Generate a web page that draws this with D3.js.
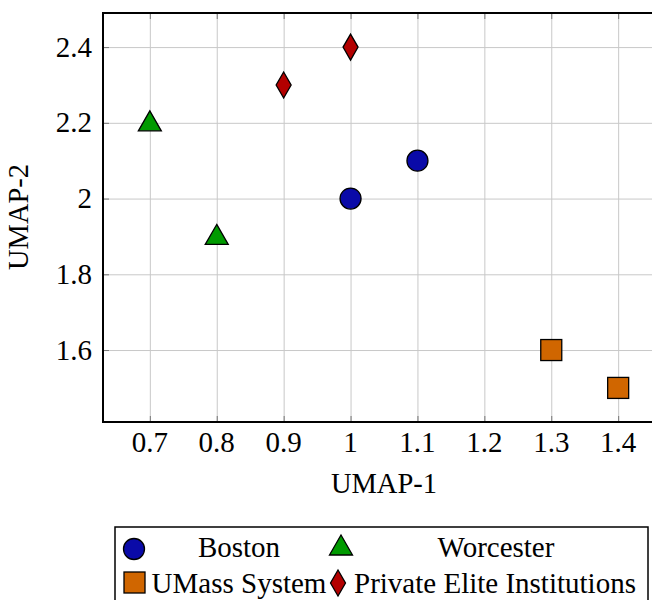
<html>
<head>
<script src="https://d3js.org/d3.v7.min.js"></script>
<style>
  body { margin: 0; background: #fff; }
  text { font-family: "Liberation Serif", "DejaVu Serif", serif; fill: #000; }
  .grid line { stroke: #c8c8c8; stroke-width: 1; }
  .grid .domain { stroke: none; }
  .ticks line { stroke: #777; stroke-width: 1; }
  .ticks .domain { stroke: none; }
</style>
</head>
<body>
<svg id="chart" width="652" height="600"></svg>
<script>
// data
const groups = ["Boston", "Worcester", "UMass System", "Private Elite Institutions"];
const bostonX = [1.0, 1.1], bostonY = [2.0, 2.1];
const worcesterX = [0.7, 0.8], worcesterY = [2.2, 1.9];
const umassX = [1.3, 1.4], umassY = [1.6, 1.5];
const privateX = [0.9, 1.0], privateY = [2.3, 2.4];
const xTicks = [0.7, 0.8, 0.9, 1.0, 1.1, 1.2, 1.3, 1.4];
const yTicks = [1.6, 1.8, 2.0, 2.2, 2.4];

const series = [
  { name: groups[0], xs: bostonX, ys: bostonY, shape: "circle", color: "#0a0aa8" },
  { name: groups[1], xs: worcesterX, ys: worcesterY, shape: "triangle", color: "#009a00" },
  { name: groups[2], xs: umassX, ys: umassY, shape: "square", color: "#d06600" },
  { name: groups[3], xs: privateX, ys: privateY, shape: "diamond", color: "#b30000" }
];

const svg = d3.select("svg#chart");
const pLeft = 103, pTop = 13, pRight = 665, pBottom = 422;

const x = d3.scaleLinear().domain([0.63, 1.47]).range([pLeft, pRight]);
const y = d3.scaleLinear().domain([1.41, 2.49]).range([pBottom, pTop]);

// grid
svg.append("g").attr("class", "grid")
  .attr("transform", `translate(0,${pBottom})`)
  .call(d3.axisBottom(x).tickValues(xTicks).tickSize(-(pBottom - pTop)).tickFormat(""));
svg.append("g").attr("class", "grid")
  .attr("transform", `translate(${pLeft},0)`)
  .call(d3.axisLeft(y).tickValues(yTicks).tickSize(-(pRight - pLeft)).tickFormat(""));

// inner tick marks
svg.append("g").attr("class", "ticks")
  .attr("transform", `translate(0,${pBottom})`)
  .call(d3.axisBottom(x).tickValues(xTicks).tickSize(-6).tickFormat(""));
svg.append("g").attr("class", "ticks")
  .attr("transform", `translate(0,${pTop})`)
  .call(d3.axisTop(x).tickValues(xTicks).tickSize(-6).tickFormat(""));
svg.append("g").attr("class", "ticks")
  .attr("transform", `translate(${pLeft},0)`)
  .call(d3.axisLeft(y).tickValues(yTicks).tickSize(-6).tickFormat(""));

// frame
svg.append("rect").attr("x", pLeft).attr("y", pTop)
  .attr("width", pRight - pLeft).attr("height", pBottom - pTop)
  .attr("fill", "none").attr("stroke", "#000").attr("stroke-width", 2);

// tick labels
svg.append("g").selectAll("text").data(xTicks).join("text")
  .attr("x", d => x(d)).attr("y", 452)
  .attr("text-anchor", "middle").attr("font-size", 29)
  .text(d => +d.toFixed(1));
svg.append("g").selectAll("text").data(yTicks).join("text")
  .attr("x", 92).attr("y", d => y(d) + 9.5)
  .attr("text-anchor", "end").attr("font-size", 29)
  .text(d => +d.toFixed(1));

// axis labels
svg.append("text").attr("x", 384).attr("y", 493)
  .attr("text-anchor", "middle").attr("font-size", 28.5).text("UMAP-1");
svg.append("text").attr("transform", "translate(28,217) rotate(-90)")
  .attr("text-anchor", "middle").attr("font-size", 28.5).text("UMAP-2");

function marker(g, shape, color) {
  const s = { stroke: "#000", "stroke-width": 1.3, fill: color };
  let el;
  if (shape === "circle") el = g.append("circle").attr("r", 10.5);
  else if (shape === "triangle") el = g.append("path").attr("d", "M0,-12 L11.5,8 L-11.5,8 Z");
  else if (shape === "square") el = g.append("rect").attr("x", -10.5).attr("y", -10.5).attr("width", 21).attr("height", 21);
  else el = g.append("path").attr("d", "M0,-13 L7.5,0 L0,13 L-7.5,0 Z");
  Object.entries(s).forEach(([k, v]) => el.attr(k, v));
}

// points
series.forEach(sr => {
  sr.xs.forEach((vx, i) => {
    const g = svg.append("g").attr("transform", `translate(${x(vx)},${y(sr.ys[i])})`);
    marker(g, sr.shape, sr.color);
  });
});

// legend
svg.append("rect").attr("x", 115).attr("y", 527).attr("width", 533).attr("height", 90)
  .attr("fill", "#fff").attr("stroke", "#000").attr("stroke-width", 1.5);
const legPos = [
  { mx: 134, my: 549, tx: 239, ty: 557 },
  { mx: 341, my: 547, tx: 496, ty: 557 },
  { mx: 134.5, my: 582.5, tx: 239, ty: 592.5 },
  { mx: 338, my: 583, tx: 495, ty: 592.5 }
];
series.forEach((sr, i) => {
  const p = legPos[i];
  const g = svg.append("g").attr("transform", `translate(${p.mx},${p.my})`);
  marker(g, sr.shape, sr.color);
  svg.append("text").attr("x", p.tx).attr("y", p.ty)
    .attr("text-anchor", "middle").attr("font-size", 29).text(sr.name);
});
</script>
</body>
</html>
